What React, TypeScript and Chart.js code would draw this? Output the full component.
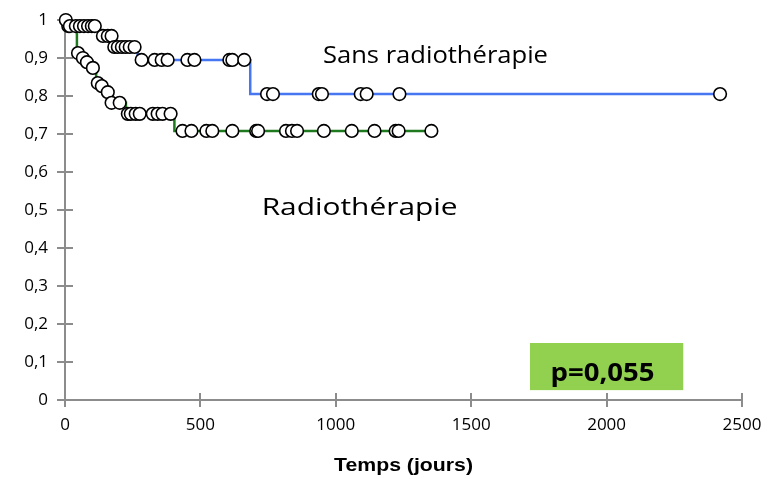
import React, { useEffect, useRef } from "react";
import { Chart, registerables } from "chart.js";

Chart.register(...registerables);

// ---- data ----
const xTickValues = [0, 500, 1000, 1500, 2000, 2500];
const yTickValues = [0, 0.1, 0.2, 0.3, 0.4, 0.5, 0.6, 0.7, 0.8, 0.9, 1];

// Sans radiothérapie (blue): event times and survival after each event
const blueEventTimes = [0, 10, 129, 177, 268, 684, 2419];
const blueSurvival = [1, 0.984, 0.958, 0.929, 0.895, 0.805, 0.805];
const blueCensorTimes = [
  3, 18, 40, 55, 70, 85, 99, 110, 140, 158, 172, 182, 195, 210, 224, 239, 257,
  283, 331, 357, 379, 452, 478, 607, 618, 662, 746, 768, 937, 949, 1092, 1114,
  1235, 2419,
];

// Radiothérapie (green)
const greenEventTimes = [0, 5, 44, 60, 75, 95, 115, 132, 150, 165, 225, 404, 1353];
const greenSurvival = [1, 0.984, 0.913, 0.9, 0.889, 0.874, 0.834, 0.826, 0.81, 0.782, 0.753, 0.708, 0.708];
const greenCensorTimes = [
  12, 48, 66, 81, 103, 121, 136, 158, 172, 202, 232, 243, 261, 276, 324, 342,
  360, 390, 434, 467, 522, 544, 618, 706, 713, 816, 838, 857, 956, 1059, 1143,
  1221, 1232, 1353,
];

const seriesNames = ["Sans radiothérapie", "Radiothérapie"];
const xAxisTitle = "Temps (jours)";
const pValueText = "p=0,055";

// ---- helpers ----
const survivalAt = (times: number[], surv: number[], t: number) => {
  let s = surv[0];
  for (let i = 0; i < times.length; i++) if (times[i] <= t) s = surv[i];
  return s;
};
const toPoints = (xs: number[], ys: number[]) => xs.map((x, i) => ({ x, y: ys[i] }));
const censorPoints = (ct: number[], times: number[], surv: number[]) =>
  ct.map((t) => ({ x: t, y: survivalAt(times, surv, t) }));

const BLUE = "#4676f2";
const GREEN = "#1f7a1f";
const AXIS = "#8c8c8c";
const TICK_FONT = "Open Sans";

// draw text centred at (cx, cy) stretched horizontally to a given width
const drawFitText = (ctx: CanvasRenderingContext2D, text: string, font: string, cx: number, cy: number, width: number) => {
  ctx.save();
  ctx.font = font;
  ctx.textAlign = "center";
  ctx.textBaseline = "middle";
  const w = ctx.measureText(text).width;
  ctx.translate(cx, cy);
  ctx.scale(width / w, 1);
  ctx.fillText(text, 0, 0);
  ctx.restore();
};

const axisTicksPlugin = {
  id: "axisTicks",
  beforeDatasetsDraw(chart: any) {
    const { ctx, chartArea, scales } = chart;
    const x = scales.x;
    const y = scales.y;
    ctx.save();
    ctx.strokeStyle = AXIS;
    ctx.lineWidth = 2;
    ctx.beginPath();
    for (const v of yTickValues) {
      const py = Math.round(y.getPixelForValue(v));
      ctx.moveTo(chartArea.left - 8, py);
      ctx.lineTo(chartArea.left + 8, py);
    }
    for (const v of xTickValues) {
      const px = Math.round(x.getPixelForValue(v));
      ctx.moveTo(px, chartArea.bottom - 7);
      ctx.lineTo(px, chartArea.bottom + 7);
    }
    ctx.stroke();
    ctx.restore();
  },
  afterDraw(chart: any) {
    const { ctx, scales, chartArea } = chart;
    const x = scales.x;
    const y = scales.y;
    ctx.save();
    ctx.fillStyle = "#000";
    drawFitText(ctx, seriesNames[0], `23px '${TICK_FONT}'`, x.getPixelForValue(1368), y.getPixelForValue(0.903), 225);
    drawFitText(ctx, seriesNames[1], `23px '${TICK_FONT}'`, x.getPixelForValue(1088), y.getPixelForValue(0.503), 196);
    // p-value box
    const bx0 = x.getPixelForValue(1717);
    const bx1 = x.getPixelForValue(2283);
    const by0 = y.getPixelForValue(0.15);
    const by1 = y.getPixelForValue(0.026);
    ctx.fillStyle = "#92d050";
    ctx.fillRect(bx0, by0, bx1 - bx0, by1 - by0);
    ctx.fillStyle = "#000";
    drawFitText(ctx, pValueText, `bold 25px '${TICK_FONT}'`, x.getPixelForValue(1985), y.getPixelForValue(0.068), 104);
    // axis title
    drawFitText(ctx, xAxisTitle, `bold 18px 'Liberation Sans'`, (chartArea.left + chartArea.right) / 2, 466, 139);
    ctx.restore();
  },
};

export default function App() {
  const canvasRef = useRef<HTMLCanvasElement | null>(null);

  useEffect(() => {
    const canvas = canvasRef.current;
    if (!canvas) return;
    const chart = new Chart(canvas, {
      type: "scatter",
      data: {
        datasets: [
          {
            label: seriesNames[0] + " censures",
            data: censorPoints(blueCensorTimes, blueEventTimes, blueSurvival),
            pointRadius: 6.3,
            pointBorderWidth: 1.6,
            pointBackgroundColor: "#ffffff",
            pointBorderColor: "#000000",
            showLine: false,
            order: 0,
            clip: false,
          } as any,
          {
            label: seriesNames[1] + " censures",
            data: censorPoints(greenCensorTimes, greenEventTimes, greenSurvival),
            pointRadius: 6.3,
            pointBorderWidth: 1.6,
            pointBackgroundColor: "#ffffff",
            pointBorderColor: "#000000",
            showLine: false,
            order: 0,
            clip: false,
          } as any,
          {
            label: seriesNames[0],
            data: toPoints(blueEventTimes, blueSurvival),
            showLine: true,
            stepped: true,
            borderColor: BLUE,
            borderWidth: 2.5,
            pointRadius: 0,
            order: 1,
            clip: false,
          } as any,
          {
            label: seriesNames[1],
            data: toPoints(greenEventTimes, greenSurvival),
            showLine: true,
            stepped: true,
            borderColor: GREEN,
            borderWidth: 2.5,
            pointRadius: 0,
            order: 1,
            clip: false,
          } as any,
        ],
      },
      options: {
        animation: false,
        responsive: false,
        events: [],
        layout: { padding: { left: 0, right: 26, top: 20, bottom: 0 } },
        plugins: { legend: { display: false }, tooltip: { enabled: false } },
        scales: {
          x: {
            type: "linear",
            min: 0,
            max: 2500,
            afterBuildTicks: (s: any) => {
              s.ticks = xTickValues.map((v) => ({ value: v }));
            },
            afterFit: (s: any) => {
              s.height = 79;
              s.paddingLeft = 0;
              s.paddingRight = 0;
              s.paddingTop = 0;
              s.paddingBottom = 0;
            },
            grid: { display: false, drawTicks: false },
            border: { display: true, color: AXIS, width: 2 },
            ticks: {
              padding: 15,
              color: "#000",
              font: { family: TICK_FONT, size: 17 },
              maxRotation: 0,
              callback: (v: any) => String(v),
            },
          },
          y: {
            type: "linear",
            min: 0,
            max: 1,
            afterBuildTicks: (s: any) => {
              s.ticks = yTickValues.map((v) => ({ value: v }));
            },
            afterFit: (s: any) => {
              s.width = 65;
              s.paddingLeft = 0;
              s.paddingRight = 0;
              s.paddingTop = 0;
              s.paddingBottom = 0;
            },
            grid: { display: false, drawTicks: false },
            border: { display: true, color: AXIS, width: 2 },
            ticks: {
              padding: 17,
              color: "#000",
              font: { family: TICK_FONT, size: 17 },
              callback: (v: any) => String(Math.round(Number(v) * 10) / 10).replace(".", ","),
            },
          },
        },
      },
      plugins: [axisTicksPlugin],
    });
    return () => chart.destroy();
  }, []);

  return (
    <div style={{ position: "fixed", left: 0, top: 0, width: 768, height: 479, background: "#fff" }}>
      <canvas ref={canvasRef} width={768} height={479} style={{ width: 768, height: 479, display: "block" }} />
    </div>
  );
}
